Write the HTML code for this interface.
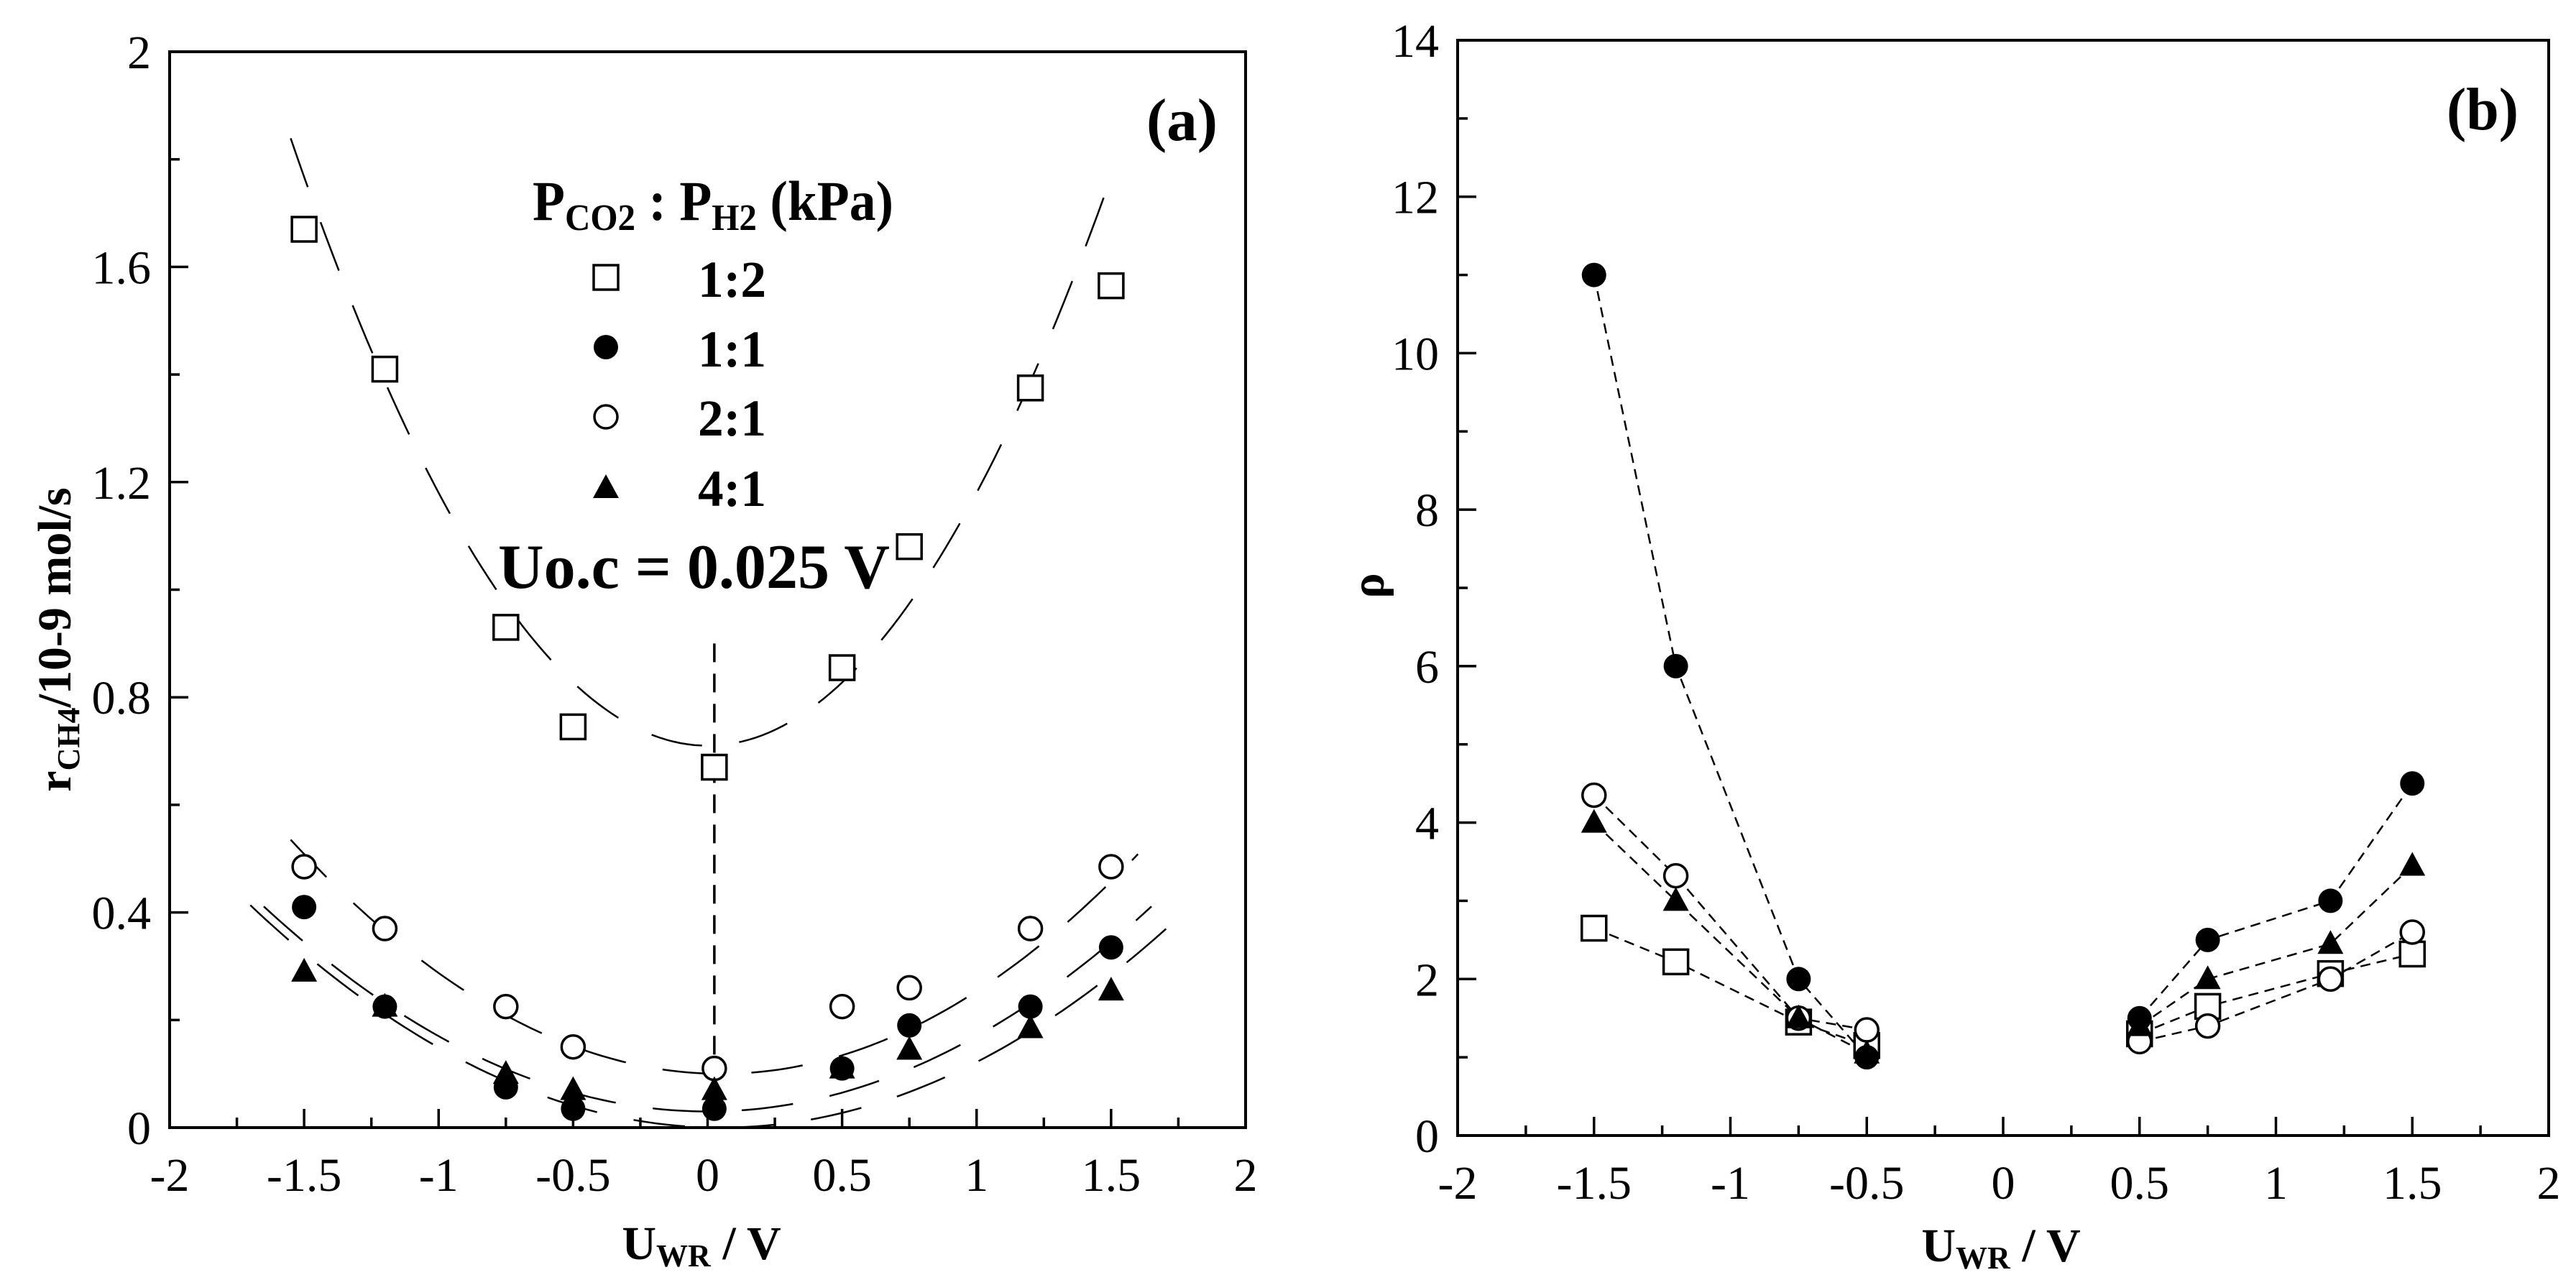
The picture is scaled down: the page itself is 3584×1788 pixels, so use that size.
<!DOCTYPE html>
<html><head><meta charset="utf-8">
<style>
html,body{margin:0;padding:0;background:#fff;}
svg{display:block;}
svg text{font-family:"Liberation Serif","DejaVu Serif",serif;fill:#000;}
</style></head>
<body>
<svg id="fig" width="3584" height="1788" viewBox="0 0 3584 1788" xmlns="http://www.w3.org/2000/svg" font-family="Liberation Serif, DejaVu Serif, serif">
  <g id="pa"></g>
  <g id="pb"></g>
</svg>
<script>
// ---- data ----
const xCats = [-1.5, -1.2, -0.75, -0.5, 0.025, 0.5, 0.75, 1.2, 1.5];
const seriesNames = ['1:2', '1:1', '2:1', '4:1'];
const rate12 = [1.67, 1.41, 0.93, 0.745, 0.67, 0.855, 1.08, 1.375, 1.565];
const rate11 = [0.41, 0.225, 0.075, 0.035, 0.035, 0.11, 0.19, 0.225, 0.335];
const rate21 = [0.485, 0.37, 0.225, 0.15, 0.11, 0.225, 0.26, 0.37, 0.485];
const rate41 = [0.29, 0.225, 0.10, 0.07, 0.07, 0.11, 0.145, 0.185, 0.255];
// parabola fits: y = c + a*(x - x0)^2 over [xmin,xmax]
const fitC = [0.71, 0.03, 0.10, 0.0];
const fitA = [0.47, 0.14, 0.17, 0.135];
const fitX0 = [0.0, 0.0, 0.05, 0.05];
const fitXmin = [-1.55, -1.65, -1.55, -1.7];
const fitXmax = [1.5, 1.65, 1.6, 1.72];

const xCatsB = [-1.5, -1.2, -0.75, -0.5, 0.5, 0.75, 1.2, 1.5];
const rho12 = [2.65, 2.22, 1.45, 1.15, 1.3, 1.65, 2.07, 2.32];
const rho11 = [11, 6, 2, 1.0, 1.5, 2.5, 3.0, 4.5];
const rho21 = [4.35, 3.32, 1.5, 1.35, 1.2, 1.4, 2.0, 2.6];
const rho41 = [4.0, 3.0, 1.5, 1.05, 1.4, 2.0, 2.45, 3.45];

const xTicks = [-2, -1.5, -1, -0.5, 0, 0.5, 1, 1.5, 2];
const xTickLabels = ['-2', '-1.5', '-1', '-0.5', '0', '0.5', '1', '1.5', '2'];
const yTicksA = [0, 0.4, 0.8, 1.2, 1.6, 2];
const yTickLabelsA = ['0', '0.4', '0.8', '1.2', '1.6', '2'];
const yTicksB = [0, 2, 4, 6, 8, 10, 12, 14];
const yTickLabelsB = ['0', '2', '4', '6', '8', '10', '12', '14'];

const NS = 'http://www.w3.org/2000/svg';
const FF = '"Liberation Serif", "DejaVu Serif", serif';
function mk(parent, tag, attrs, txt) {
  const e = document.createElementNS(NS, tag);
  for (const k in attrs) e.setAttribute(k, attrs[k]);
  if (tag === 'text') e.style.fontFamily = FF;
  if (txt !== undefined) e.textContent = txt;
  parent.appendChild(e);
  return e;
}
function marker(g, kind, cx, cy, name) {
  let e;
  const s = 17;
  if (kind === 'sq') e = mk(g, 'rect', {x: cx - s, y: cy - s, width: 2 * s, height: 2 * s, fill: '#fff', stroke: '#000', 'stroke-width': 3.5});
  else if (kind === 'fc') e = mk(g, 'circle', {cx: cx, cy: cy, r: 17, fill: '#000'});
  else if (kind === 'oc') e = mk(g, 'circle', {cx: cx, cy: cy, r: 16, fill: '#fff', stroke: '#000', 'stroke-width': 3.5});
  else e = mk(g, 'polygon', {points: (cx) + ',' + (cy - 19) + ' ' + (cx + 18) + ',' + (cy + 14) + ' ' + (cx - 18) + ',' + (cy + 14), fill: '#000'});
  
  
  return e;
}
function axes(g, L, R, T, B, xmin, xmax, ymin, ymax, yT, yTL, yMinorStep, pref) {
  const X = v => L + (v - xmin) / (xmax - xmin) * (R - L);
  const Y = v => B - (v - ymin) / (ymax - ymin) * (B - T);
  const fr = mk(g, 'rect', {x: L, y: T, width: R - L, height: B - T, fill: 'none', stroke: '#000', 'stroke-width': 4});
  
  
  const tg = mk(g, 'g', {stroke: '#000', 'stroke-width': 3.5});
  
  
  for (let v = xmin; v <= xmax + 1e-9; v += 0.25) {
    const major = Math.abs(v * 2 - Math.round(v * 2)) < 1e-6;
    mk(tg, 'line', {x1: X(v), x2: X(v), y1: B, y2: B - (major ? 26 : 14)});
  }
  for (let v = ymin; v <= ymax + 1e-9; v += yMinorStep) {
    const major = yT.some(t => Math.abs(t - v) < 1e-6);
    mk(tg, 'line', {x1: L, x2: L + (major ? 26 : 14), y1: Y(v), y2: Y(v)});
  }
  xTicks.forEach((v, i) => {
    const t = mk(g, 'text', {x: X(v), y: B + 88, 'font-size': 66, 'text-anchor': 'middle'}, xTickLabels[i]);
    
    
  });
  yT.forEach((v, i) => {
    const t = mk(g, 'text', {x: L - 26, y: Y(v) + 23, 'font-size': 66, 'text-anchor': 'end'}, yTL[i]);
    
    
  });
  return {X, Y};
}

// ---------- Panel (a) ----------
const pa = document.getElementById('pa');
const A = axes(pa, 236, 1733, 72, 1569, -2, 2, 0, 2, yTicksA, yTickLabelsA, 0.2, 'panel-a');
const kinds = ['sq', 'fc', 'oc', 'tr'];
const rates = [rate12, rate11, rate21, rate41];
for (let s = 0; s < 4; s++) {
  let d = '';
  const n = 120;
  for (let i = 0; i <= n; i++) {
    const x = fitXmin[s] + (fitXmax[s] - fitXmin[s]) * i / n;
    const y = fitC[s] + fitA[s] * (x - fitX0[s]) * (x - fitX0[s]);
    d += (i ? 'L' : 'M') + A.X(x).toFixed(1) + ',' + A.Y(y).toFixed(1);
  }
  const p = mk(pa, 'path', {d: d, fill: 'none', stroke: '#000', 'stroke-width': 2.5, 'stroke-dasharray': '72 52'});
  
  
}
const vl = mk(pa, 'line', {x1: A.X(0.025), x2: A.X(0.025), y1: A.Y(0.9), y2: A.Y(0), stroke: '#000', 'stroke-width': 3.5, 'stroke-dasharray': '26 16'});


for (let s = 0; s < 4; s++) {
  const g = mk(pa, 'g', {});
  
  
  xCats.forEach((x, i) => marker(g, kinds[s], A.X(x), A.Y(rates[s][i]), 'point'));
}

// static text panel (a)
pa.insertAdjacentHTML('beforeend',
  '<text x="1595" y="195" font-size="84" font-weight="bold" textLength="99" lengthAdjust="spacingAndGlyphs">(a)</text>' +
  '<text x="741" y="306" font-size="78" font-weight="bold" textLength="502" lengthAdjust="spacingAndGlyphs">P<tspan font-size="52" dy="14">CO2</tspan><tspan dy="-14"> : P</tspan><tspan font-size="52" dy="14">H2</tspan><tspan dy="-14"> (kPa)</tspan></text>' +
  '<text x="971" y="413" font-size="72" font-weight="bold" textLength="95" lengthAdjust="spacingAndGlyphs">1:2</text>' +
  '<text x="971" y="510" font-size="72" font-weight="bold" textLength="95" lengthAdjust="spacingAndGlyphs">1:1</text>' +
  '<text x="971" y="606" font-size="72" font-weight="bold" textLength="95" lengthAdjust="spacingAndGlyphs">2:1</text>' +
  '<text x="971" y="704" font-size="72" font-weight="bold" textLength="95" lengthAdjust="spacingAndGlyphs">4:1</text>' +
  '<text x="693" y="818" font-size="88" font-weight="bold" textLength="545" lengthAdjust="spacingAndGlyphs">Uo.c = 0.025 V</text>' +
  '<text transform="translate(98,890) rotate(-90)" font-size="66" font-weight="bold" text-anchor="middle">r<tspan font-size="44" dy="12">CH4</tspan><tspan dy="-12">/10-9 mol/s</tspan></text>' +
  '<text x="976" y="1752" font-size="66" font-weight="bold" text-anchor="middle">U<tspan font-size="44" dy="10">WR</tspan><tspan dy="-10"> / V</tspan></text>'
);
const lg = mk(pa, 'g', {});


const legYs = [386, 483, 580, 679];
kinds.forEach((k, i) => marker(lg, k, 843, legYs[i], 'legend-marker'));

// ---------- Panel (b) ----------
const pb = document.getElementById('pb');
const B2 = axes(pb, 2028, 3546, 56, 1580, -2, 2, 0, 14, yTicksB, yTickLabelsB, 1, 'panel-b');
const rhos = [rho12, rho11, rho21, rho41];
for (let s = 0; s < 4; s++) {
  const g = mk(pb, 'g', {});
  
  
  [[0, 4], [4, 8]].forEach(([a, b]) => {
    let d = '';
    for (let i = a; i < b; i++) d += (i === a ? 'M' : 'L') + B2.X(xCatsB[i]).toFixed(1) + ',' + B2.Y(rhos[s][i]).toFixed(1);
    const p = mk(g, 'path', {d: d, fill: 'none', stroke: '#000', 'stroke-width': 2.5, 'stroke-dasharray': '14 9'});
    
    
  });
}
for (let s = 0; s < 4; s++) {
  const g = mk(pb, 'g', {});
  
  
  xCatsB.forEach((x, i) => marker(g, kinds[s], B2.X(x), B2.Y(rhos[s][i]), 'rho-point'));
}
pb.insertAdjacentHTML('beforeend',
  '<text x="3404" y="180" font-size="84" font-weight="bold" textLength="100" lengthAdjust="spacingAndGlyphs">(b)</text>' +
  '<text transform="translate(1925,815) rotate(-90)" font-size="66" font-weight="bold" text-anchor="middle">ρ</text>' +
  '<text x="2784" y="1755" font-size="66" font-weight="bold" text-anchor="middle">U<tspan font-size="44" dy="10">WR</tspan><tspan dy="-10"> / V</tspan></text>'
);
document.querySelectorAll('svg text').forEach(t => { t.style.fontFamily = FF; });
</script>
</body></html>
